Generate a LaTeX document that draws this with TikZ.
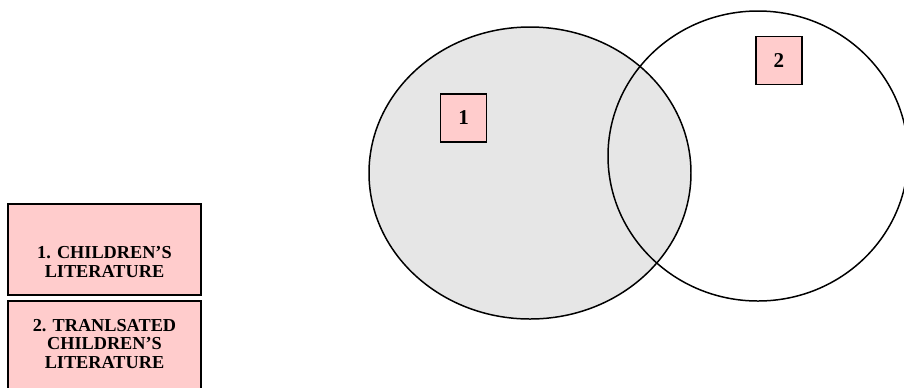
\documentclass[tikz,border=0pt]{standalone}
\usepackage{fontspec}
\setmainfont{Liberation Serif}
\usepackage{xcolor}
\definecolor{keypink}{HTML}{FFCCCC}
\definecolor{setgray}{HTML}{E6E6E6}
\tikzset{
  setline/.style={line width=0.85pt},
  keyframe/.style={draw, fill=keypink, line width=1.1pt},
  keytext/.style={align=center, inner sep=0pt, font=\bfseries\fontsize{10.4}{10.8}\selectfont},
  numbox/.style={draw, fill=keypink, line width=0.85pt, minimum width=0.92cm,
    minimum height=0.96cm, inner sep=0pt, font=\bfseries\fontsize{12}{12}\selectfont}
}

\begin{document}
\begin{tikzpicture}[x=0.02cm,y=-0.02cm]
\useasboundingbox (0,0) rectangle (904,387);
% the two sets
\draw[setline, fill=setgray] (530,173) ellipse (161 and 146);
\draw[setline] (758,156) ellipse (150 and 145);
\node[numbox] (setone) at (463.7,118) {1};
\node[numbox] (settwo) at (779,60.5) {2};
% key
\draw[keyframe] (8,204) rectangle (201,295);
\node[keytext] (keyone) at (104.5,262) {1. CHILDREN’S\\LITERATURE};
\draw[keyframe] (8,301) rectangle (201,400);
\node[keytext] (keytwo) at (104.5,344) {2. TRANLSATED\\CHILDREN’S\\LITERATURE};
\end{tikzpicture}
\end{document}
